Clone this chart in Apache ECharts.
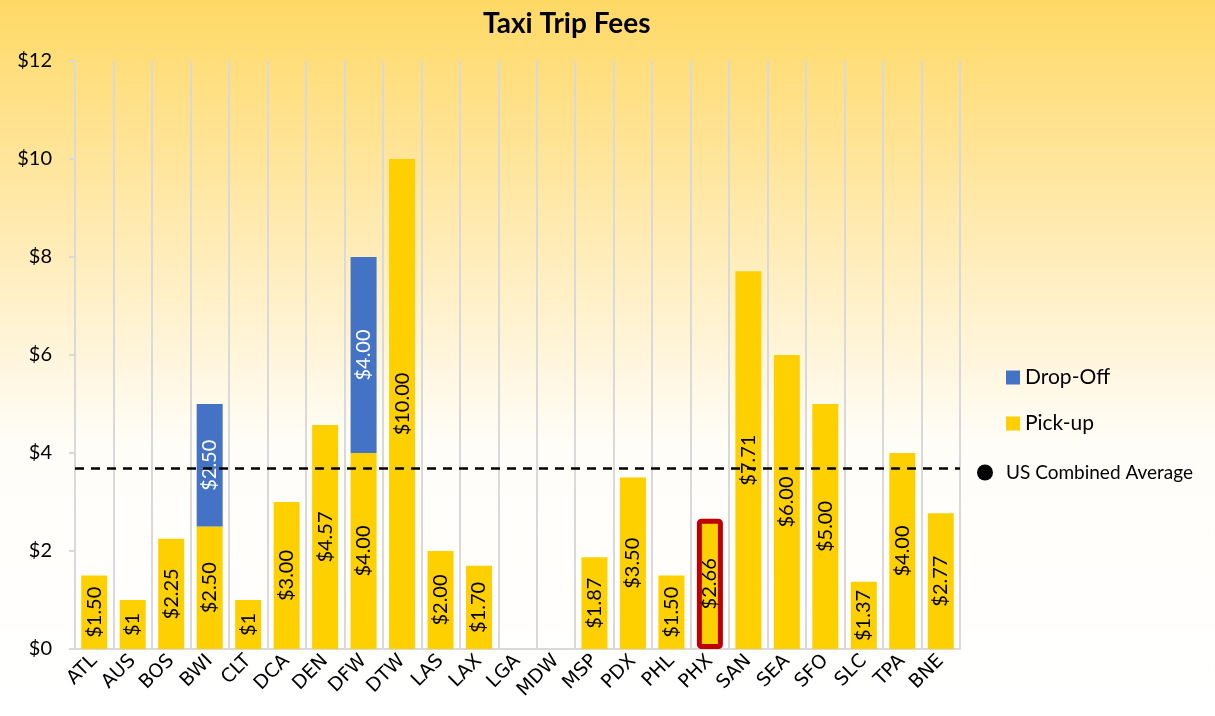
<!DOCTYPE html>
<html>
<head>
<meta charset="utf-8">
<script src="https://cdn.jsdelivr.net/npm/echarts@6/dist/echarts.min.js"></script>
<style>
  html, body { margin: 0; padding: 0; }
  #chart { width: 1215px; height: 716px; }
</style>
</head>
<body>
<div id="chart"></div>
<script>
// airports on the x axis
const airports = ["ATL", "AUS", "BOS", "BWI", "CLT", "DCA", "DEN", "DFW", "DTW", "LAS", "LAX",
  "LGA", "MDW", "MSP", "PDX", "PHL", "PHX", "SAN", "SEA", "SFO", "SLC", "TPA", "BNE"];
// pick-up fee (LGA, MDW have none)
const pickUp = [1.5, 1, 2.25, 2.5, 1, 3, 4.57, 4, 10, 2, 1.7,
  null, null, 1.87, 3.5, 1.5, 2.66, 7.71, 6, 5, 1.37, 4, 2.77];
const pickUpLabels = ["$1.50", "$1", "$2.25", "$2.50", "$1", "$3.00", "$4.57", "$4.00", "$10.00", "$2.00", "$1.70",
  "", "", "$1.87", "$3.50", "$1.50", "$2.66", "$7.71", "$6.00", "$5.00", "$1.37", "$4.00", "$2.77"];
// drop-off fee, only BWI and DFW
const dropOff = [null, null, null, 2.5, null, null, null, 4, null, null, null,
  null, null, null, null, null, null, null, null, null, null, null, null];
const dropOffLabels = ["", "", "", "$2.50", "", "", "", "$4.00", "", "", "",
  "", "", "", "", "", "", "", "", "", "", "", ""];
const usAverage = 3.69;
const yTicks = ["$0", "$2", "$4", "$6", "$8", "$10", "$12"];
const highlight = "PHX"; // airport with red box

const FONT = "Lato, 'Open Sans', sans-serif";

const chart = echarts.init(document.getElementById("chart"));

chart.setOption({
  backgroundColor: {
    type: "linear", x: 0, y: 0, x2: 0, y2: 1,
    colorStops: [
      { offset: 0, color: "#FFD966" },
      { offset: 0.35, color: "#FFECB8" },
      { offset: 0.62, color: "#FFFDF8" },
      { offset: 1, color: "#FFFFFF" }
    ]
  },
  textStyle: { fontFamily: FONT },
  title: {
    text: "Taxi Trip Fees",
    left: 478,
    top: 5,
    textStyle: { fontFamily: FONT, fontSize: 28, fontWeight: "bold", color: "#000" }
  },
  legend: [
    {
      data: ["Drop-Off", "Pick-up"],
      orient: "vertical",
      left: 1001,
      top: 362,
      itemWidth: 14,
      itemHeight: 14,
      itemGap: 25,
      icon: "rect",
      textStyle: { fontFamily: FONT, fontSize: 21, color: "#000" }
    },
    {
      data: [{ name: "US Combined Average", icon: "circle" }],
      left: 972,
      top: 458,
      itemWidth: 16,
      itemHeight: 16,
      textStyle: { fontFamily: FONT, fontSize: 19, color: "#000", padding: [0, 0, 0, 8] }
    }
  ],
  grid: { left: 75, right: 255, top: 61, bottom: 67 },
  xAxis: {
    type: "category",
    data: airports,
    axisLine: { lineStyle: { color: "#D9D9D9", width: 2 } },
    axisTick: { show: false },
    splitLine: { show: true, lineStyle: { color: "#D9D9D9", width: 2 } },
    axisLabel: {
      rotate: 45,
      interval: 0,
      margin: 9,
      color: "#000",
      fontSize: 19,
      fontFamily: "'DejaVu Sans', sans-serif"
    }
  },
  yAxis: {
    type: "value",
    min: 0,
    max: 12,
    interval: 2,
    axisLine: { show: true, lineStyle: { color: "#D9D9D9", width: 2 } },
    axisTick: { show: true, length: 6, lineStyle: { color: "#D9D9D9", width: 2 } },
    splitLine: { show: false },
    axisLabel: {
      margin: 23,
      color: "#000",
      fontSize: 20,
      fontFamily: FONT,
      formatter: (v) => yTicks[v / 2]
    }
  },
  series: [
    {
      name: "Pick-up",
      type: "bar",
      stack: "fee",
      barWidth: 26,
      itemStyle: { color: "#FFD000" },
      data: pickUp.map((v, i) => airports[i] === highlight
        ? { value: v, itemStyle: { borderColor: "#C00000", borderWidth: 5, borderRadius: 2 } }
        : v),
      label: {
        show: true,
        position: "inside",
        rotate: 90,
        color: "#000",
        fontSize: 20,
        fontFamily: FONT,
        formatter: (p) => pickUpLabels[p.dataIndex]
      }
    },
    {
      name: "Drop-Off",
      type: "bar",
      stack: "fee",
      barWidth: 26,
      itemStyle: { color: "#4472C4" },
      data: dropOff,
      label: {
        show: true,
        position: "inside",
        rotate: 90,
        color: "#FFFFFF",
        fontSize: 20,
        fontFamily: FONT,
        formatter: (p) => dropOffLabels[p.dataIndex]
      }
    },
    {
      name: "US Combined Average",
      type: "line",
      data: [],
      itemStyle: { color: "#000" },
      lineStyle: { color: "#000" },
      markLine: {
        silent: true,
        symbol: "none",
        label: { show: false },
        lineStyle: { color: "#000", type: [9, 7], width: 2.5 },
        data: [{ yAxis: usAverage }]
      }
    }
  ]
});
</script>
</body>
</html>
